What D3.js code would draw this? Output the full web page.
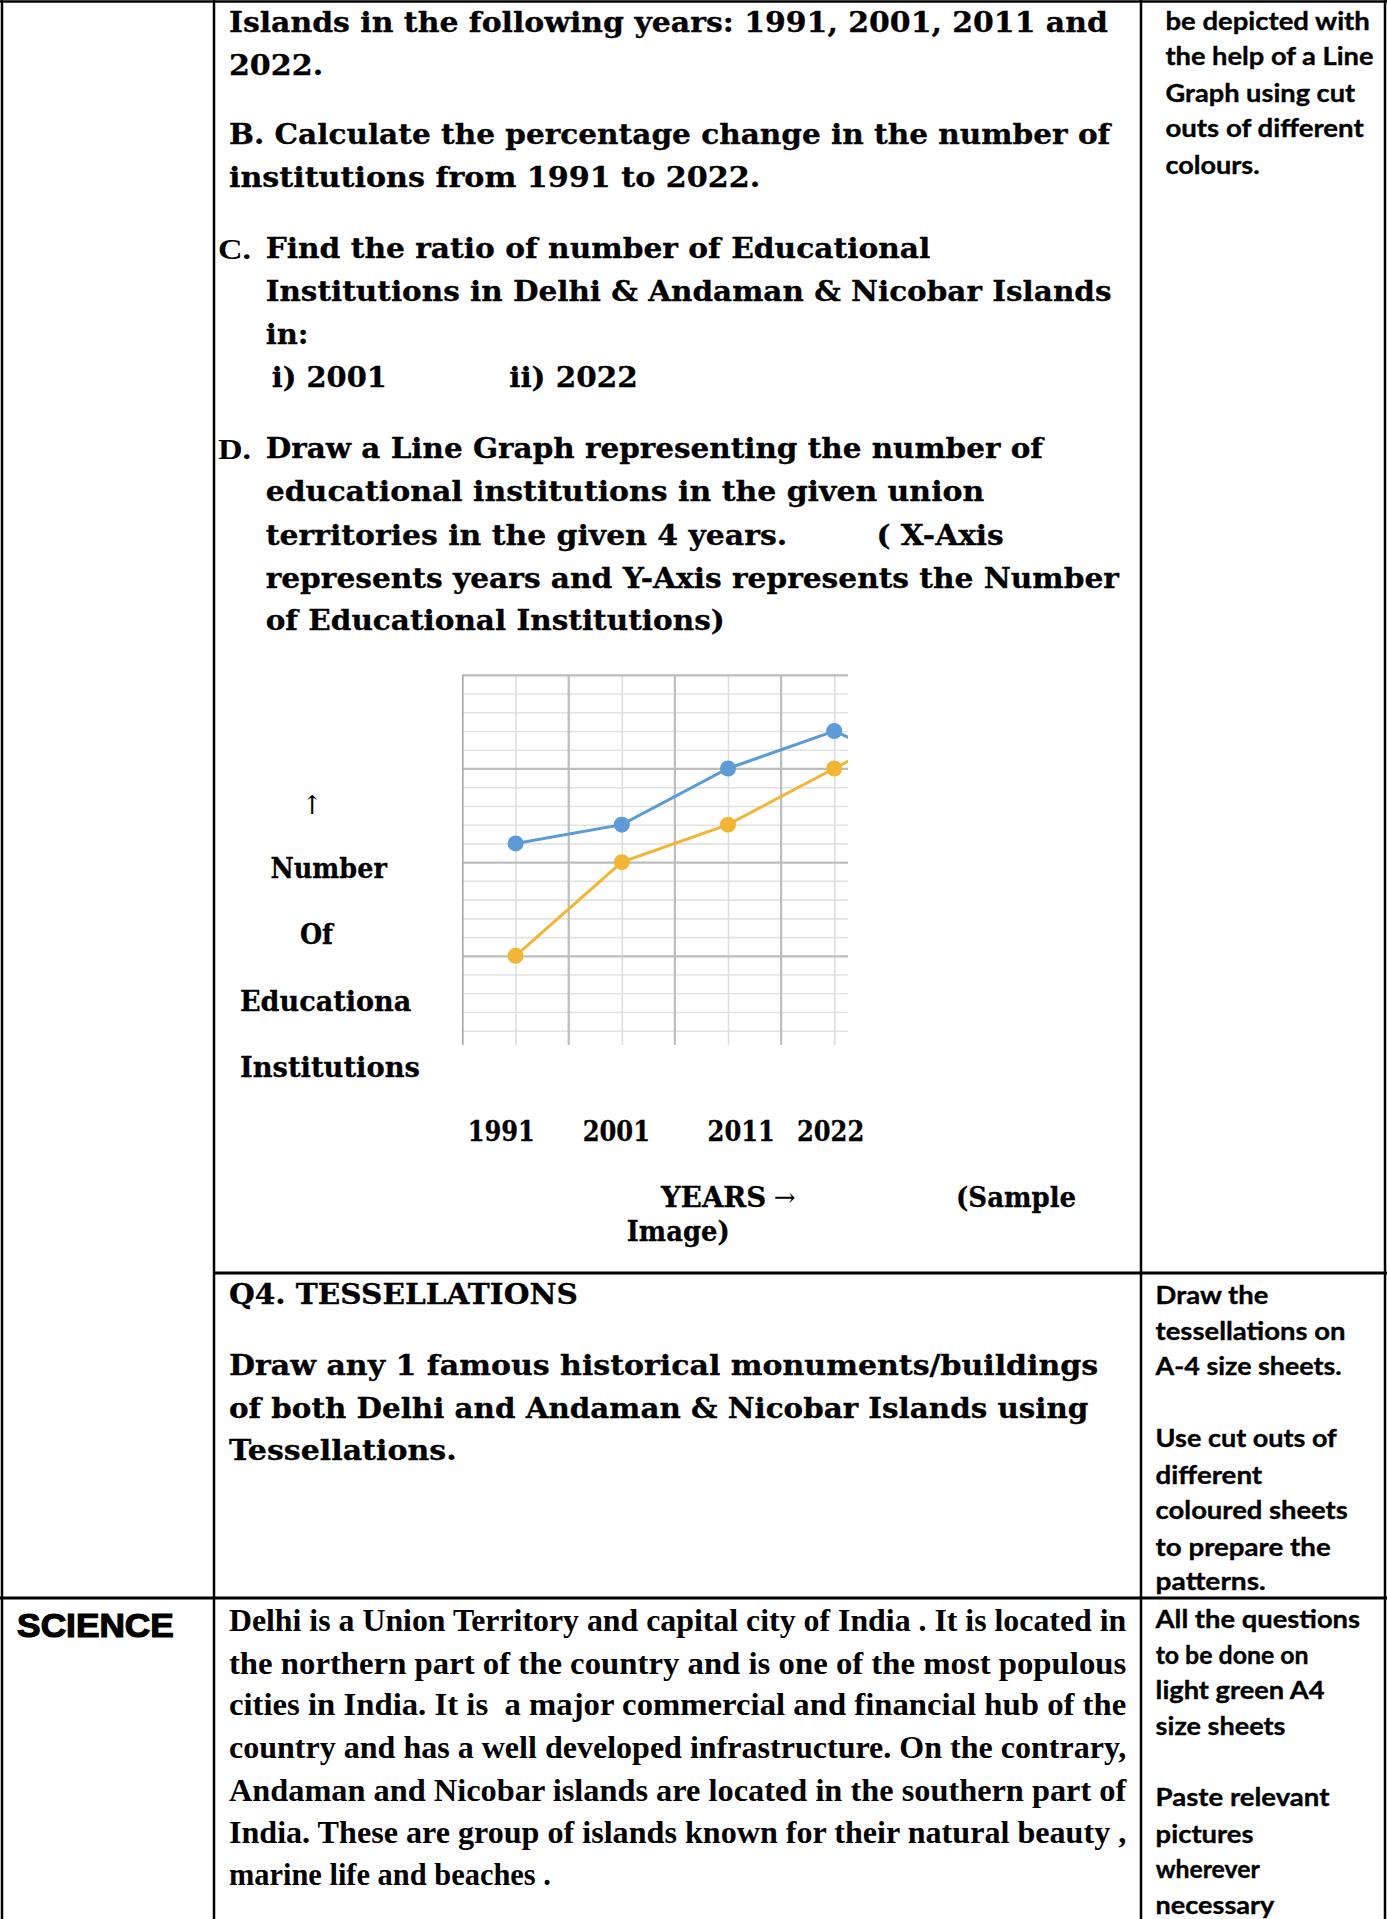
<!DOCTYPE html>
<html><head><meta charset="utf-8">
<script src="https://cdn.jsdelivr.net/npm/d3@7/dist/d3.min.js"></script>
<style>
html,body{margin:0;padding:0;background:#fff;}
svg{display:block;}
.bk{font-family:"DejaVu Serif",serif;font-weight:bold;font-size:27px;fill:#000;stroke:#000;stroke-width:0.3;}
.tn{font-family:"Liberation Serif","Times New Roman",Tinos,serif;font-weight:bold;font-size:30px;fill:#000;}
.cal{font-family:"Lato","Open Sans",sans-serif;font-weight:bold;font-size:24.5px;fill:#000;stroke:#000;stroke-width:0.35;}
.tnr{font-family:"Liberation Serif","Times New Roman",Tinos,serif;font-weight:bold;font-size:31px;fill:#000;}
.ar{font-family:"Liberation Sans",Arial,sans-serif;font-weight:bold;font-size:34px;fill:#000;stroke:#000;stroke-width:1.2;}
.arr{font-family:"DejaVu Serif",serif;font-weight:normal;font-size:26px;fill:#000;}
</style></head>
<body>
<script>
// ---- chart data ----
const years = ["1991", "2001", "2011", "2022", "next"];      // last category is cut off by the image edge
const delhiValues = [22, 24, 30, 34, 29];                    // blue series
const andamanValues = [10, 20, 24, 30, 36];                  // gold series
const yMajorTicks = [0, 10, 20, 30, 40];
const yMinorTicks = [2,4,6,8,12,14,16,18,22,24,26,28,32,34,36,38];
const xTickLabels = ["1991", "2001", "2011", "2022"];

const W = 1387, H = 1919, S = 1387 / 1133;
const svg = d3.select("body").append("svg").attr("width", W).attr("height", H);

// ---- table borders ----
const lines = [
  [2, 0, 2, H, 2.5], [214, 0, 214, H, 2.5], [1141, 0, 1141, H, 2.5], [1385, 0, 1385, H, 2.5],
  [0, 1.5, W, 1.5, 2.5], [214, 1273, W, 1273, 3], [0, 1598, W, 1598, 3]
];
svg.selectAll("line.border").data(lines).join("line").attr("class", "border")
  .attr("x1", d => d[0]).attr("y1", d => d[1]).attr("x2", d => d[2]).attr("y2", d => d[3])
  .attr("stroke", "#000").attr("stroke-width", d => d[4]);

// ---- document text (coordinates in the 1133-wide reference space) ----
const texts = [
  ["Islands in the following years: 1991, 2001, 2011 and", 187, 18, 718, "bk"],
  ["2022.", 187, 53, 77, "bk"],
  ["B. Calculate the percentage change in the number of", 187, 110, 720, "bk"],
  ["institutions from 1991 to 2022.", 187, 145, 434, "bk"],
  ["C.", 178, 203, 27, "tn"],
  ["Find the ratio of number of Educational", 217, 203, 543, "bk"],
  ["Institutions in Delhi & Andaman & Nicobar Islands", 217, 238, 691, "bk"],
  ["in:", 217, 273, 35, "bk"],
  ["i) 2001", 222, 308, 94, "bk"],
  ["ii) 2022", 416, 308, 105, "bk"],
  ["D.", 178, 366, 27, "tn"],
  ["Draw a Line Graph representing the number of", 217, 366, 635, "bk"],
  ["educational institutions in the given union", 217, 401, 587, "bk"],
  ["territories in the given 4 years.", 217, 437, 426, "bk"],
  ["( X-Axis", 716, 437, 104, "bk"],
  ["represents years and Y-Axis represents the Number", 217, 472, 697, "bk"],
  ["of Educational Institutions)", 217, 507, 375, "bk"],
  ["Number", 221, 709, 95, "bk"],
  ["Of", 245, 763, 27, "bk"],
  ["Educationa", 196, 818, 140, "bk"],
  ["Institutions", 196, 872, 147, "bk"],
  ["YEARS", 540, 978, 86, "bk"],
  ["(Sample", 781, 978, 98, "bk"],
  ["Image)", 512, 1006, 84, "bk"],
  ["Q4. TESSELLATIONS", 187, 1057, 285, "bk"],
  ["Draw any 1 famous historical monuments/buildings", 187, 1115, 710, "bk"],
  ["of both Delhi and Andaman & Nicobar Islands using", 187, 1150, 702, "bk"],
  ["Tessellations.", 187, 1185, 186, "bk"],
  ["be depicted with", 952, 17, 167, "cal"],
  ["the help of a Line", 952, 46, 170, "cal"],
  ["Graph using cut", 952, 76, 155, "cal"],
  ["outs of different", 952, 105, 162, "cal"],
  ["colours.", 952, 135, 77, "cal"],
  ["Draw the", 944, 1058, 92, "cal"],
  ["tessellations on", 944, 1087, 155, "cal"],
  ["A-4 size sheets.", 944, 1116, 152, "cal"],
  ["Use cut outs of", 944, 1175, 148, "cal"],
  ["different", 944, 1205, 87, "cal"],
  ["coloured sheets", 944, 1234, 157, "cal"],
  ["to prepare the", 944, 1264, 143, "cal"],
  ["patterns.", 944, 1292, 90, "cal"],
  ["All the questions", 944, 1323, 167, "cal"],
  ["to be done on", 944, 1352, 125, "cal"],
  ["light green A4", 944, 1381, 138, "cal"],
  ["size sheets", 944, 1410, 106, "cal"],
  ["Paste relevant", 944, 1468, 142, "cal"],
  ["pictures", 944, 1498, 80, "cal"],
  ["wherever", 944, 1527, 85, "cal"],
  ["necessary", 944, 1556, 97, "cal"],
  ["SCIENCE", 14, 1327, 128, "ar"],
  ["Delhi is a Union Territory and capital city of India . It is located in", 187, 1323, 733, "tnr"],
  ["the northern part of the country and is one of the most populous", 187, 1358, 733, "tnr"],
  ["cities in India. It is  a major commercial and financial hub of the", 187, 1392, 733, "tnr"],
  ["country and has a well developed infrastructure. On the contrary,", 187, 1427, 733, "tnr"],
  ["Andaman and Nicobar islands are located in the southern part of", 187, 1462, 733, "tnr"],
  ["India. These are group of islands known for their natural beauty ,", 187, 1496, 733, "tnr"],
  ["marine life and beaches .", 187, 1531, 263, "tnr"]
];
const fsz = {bk: 27, tn: 30, cal: 24.5, tnr: 31, ar: 34};
svg.append("g").selectAll("text").data(texts).join("text")
  .attr("class", d => d[4])
  .attr("x", d => d[1] * S)
  .attr("y", d => d[2] * S + 0.36 * fsz[d[4]])
  .attr("textLength", d => d[3] * S)
  .attr("lengthAdjust", "spacingAndGlyphs")
  .style("white-space", "pre")
  .text(d => d[0]);

// arrows
svg.append("text").attr("class", "arr").attr("x", 255 * S).attr("y", 657 * S + 10)
  .attr("text-anchor", "middle").text("\u2191");
svg.append("text").attr("class", "arr").attr("x", 632 * S).attr("y", 978 * S + 9).text("\u2192");

// ---- chart ----
const plot = {x0: 462.5, x1: 848, y0: 674.5, y1: 1045};
const step = 106.2;
const x = d3.scalePoint().domain(years).range([plot.x0, plot.x0 + step * years.length]).padding(0.5);
const y = d3.scaleLinear().domain([0, 40]).range([1049.5, 674.8]);

const defs = svg.append("defs");
defs.append("clipPath").attr("id", "pc").append("rect")
  .attr("x", plot.x0).attr("y", plot.y0 - 1).attr("width", plot.x1 - plot.x0).attr("height", plot.y1 - plot.y0 + 1);
defs.append("filter").attr("id", "soft").append("feGaussianBlur").attr("stdDeviation", 0.7);

const chart = svg.append("g").attr("clip-path", "url(#pc)").attr("filter", "url(#soft)");

// minor horizontal grid
chart.append("g").call(d3.axisLeft(y).tickValues(yMinorTicks).tickSize(-(plot.x1 - plot.x0)).tickFormat(""))
  .attr("transform", `translate(${plot.x0},0)`)
  .call(g => g.select(".domain").remove())
  .call(g => g.selectAll(".tick line").attr("stroke", "#e2e2e2").attr("stroke-width", 1.6));
// minor vertical grid (at category centres)
chart.append("g").call(d3.axisBottom(x).tickSize(-(plot.y1 - plot.y0)).tickFormat(""))
  .attr("transform", `translate(0,${plot.y1})`)
  .call(g => g.select(".domain").remove())
  .call(g => g.selectAll(".tick line").attr("stroke", "#dedede").attr("stroke-width", 1.6));
// major horizontal grid
chart.append("g").call(d3.axisLeft(y).tickValues(yMajorTicks).tickSize(-(plot.x1 - plot.x0)).tickFormat(""))
  .attr("transform", `translate(${plot.x0},0)`)
  .call(g => g.select(".domain").remove())
  .call(g => g.selectAll(".tick line").attr("stroke", "#bdbdbd").attr("stroke-width", 2.2));
// major vertical grid (category boundaries)
const bounds = years.map(d => x(d) - x.step() / 2);
chart.append("g").selectAll("line").data(bounds).join("line")
  .attr("x1", d => d).attr("x2", d => d).attr("y1", plot.y0).attr("y2", plot.y1)
  .attr("stroke", d => d === bounds[0] ? "#a8a8a8" : "#bdbdbd").attr("stroke-width", 2.2);

const series = [
  {name: "Delhi", values: delhiValues, color: "#5b9bd5"},
  {name: "Andaman & Nicobar", values: andamanValues, color: "#f2b535"}
];
const line = d3.line().x((d, i) => x(years[i])).y(d => y(d));
series.forEach(s => {
  const g = chart.append("g");
  g.append("path").attr("d", line(s.values)).attr("fill", "none")
    .attr("stroke", s.color).attr("stroke-width", 3);
  g.selectAll("circle").data(s.values).join("circle")
    .attr("cx", (d, i) => x(years[i])).attr("cy", d => y(d)).attr("r", 8).attr("fill", s.color);
});

// x tick labels as typed in the document
const xLabelPos = [382, 476, 578, 651];
svg.append("g").selectAll("text").data(xTickLabels).join("text")
  .attr("class", "bk").attr("x", (d, i) => xLabelPos[i] * S).attr("y", 924 * S + 10)
  .attr("textLength", 55 * S).attr("lengthAdjust", "spacingAndGlyphs").text(d => d);
</script>
</body></html>
